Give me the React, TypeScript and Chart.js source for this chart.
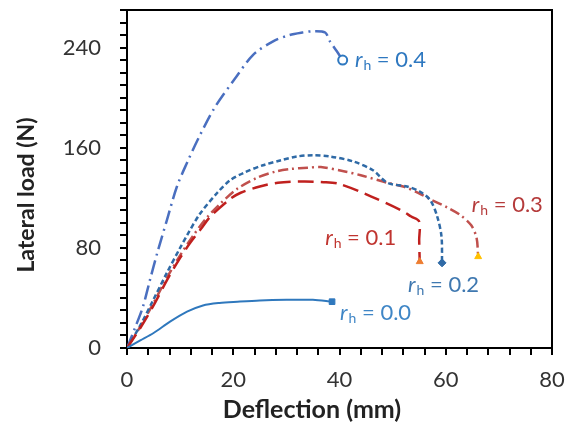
import React, { useEffect, useRef } from 'react';
import { Chart, registerables } from 'chart.js';

Chart.register(...registerables);

// r_h = 0.0 (solid)
const r00X = [0, 2.5, 5, 8.1, 11.3, 14.3, 17.4, 20.8, 25, 30, 35, 38.6];
const r00Y = [0, 6, 12, 21, 29, 34, 36, 37, 38, 38.5, 38.5, 37];
// r_h = 0.1 (long dash)
const r01X = [0, 2.5, 5, 7.5, 10, 11.9, 13.9, 15.7, 19.4, 21.4, 25, 28.4, 33, 37, 40, 46, 51.6, 53.5, 55.0, 55.0, 55.1];
const r01Y = [0, 16, 34, 54, 72, 84, 95, 105, 119, 124, 129, 132, 133, 132.5, 131, 121, 110, 105, 101, 86, 69];
// r_h = 0.2 (short dash)
const r02X = [0, 2.5, 4.9, 7.5, 10, 11.3, 13.7, 17, 19.4, 22, 25.6, 29, 32, 35, 38.2, 42.6, 46.3, 49, 52.7, 55.1, 57.1, 58.4, 59.2, 59.3];
const r02Y = [0, 18, 38, 60, 80, 90, 107, 124, 134, 140, 146, 150, 153, 154, 153, 149, 142, 132, 129, 125, 118, 105, 89, 68];
// r_h = 0.3 (dash-dot, red)
const r03X = [0, 2.5, 5, 7.5, 10, 12.5, 15, 17.5, 20.7, 24.5, 28, 30.8, 34, 36.5, 41, 44, 49, 52, 54.8, 57, 60.4, 62.8, 64.8, 65.8, 66.1];
const r03Y = [0, 17, 36, 56, 74, 90, 104, 115, 127, 136, 141, 143, 144, 144.5, 141, 138, 132, 129, 124, 119, 112, 106, 98, 88, 73];
// r_h = 0.4 (dash-dot, blue)
const r04X = [0, 1.5, 3.0, 4.3, 5.7, 7.5, 9.4, 11.3, 13.5, 16.5, 20.3, 23.7, 27.5, 30.6, 33, 35, 37.3, 38.2, 39.5, 40.6];
const r04Y = [0, 16, 33, 54, 76, 102, 129, 148, 168, 192, 215, 234, 245, 250, 252, 253, 252, 245, 237, 230];

const seriesValues = ['0.0', '0.1', '0.2', '0.3', '0.4'];
const xTickLabels = [0, 20, 40, 60, 80];
const yTickLabels = [0, 80, 160, 240];
const labelAnchorX = [40.1, 37.3, 52.9, 64.9, 42.9];
const labelAnchorY = [28, 88, 50.4, 114.4, 230.4];

const xTitle = 'Deflection (mm)';
const yTitle = 'Lateral load (N)';

const lineColors = ['#2f78bd', '#c0201e', '#2f6aa6', '#c0504d', '#4a6fc0'];
const labelColors = ['#3f86c6', '#c0342f', '#3f78b0', '#b53b3b', '#2e78c0'];
const markerFill = ['#2f78bd', '#ed7d31', '#2f6aa6', '#ffc000', '#ffffff'];
const markerStroke = ['#2f78bd', '#ed7d31', '#2f6aa6', '#ffc000', '#2e78c0'];
const markerStyle = ['rect', 'triangle', 'rectRot', 'triangle', 'circle'];
const dashes = [[], [16, 7], [5, 3], [10, 4, 2, 4], [14, 5, 2, 5]];

const FONT = 'Lato, "Open Sans", sans-serif';

function zip(xs: number[], ys: number[]) {
  return xs.map((x, i) => ({ x, y: ys[i] }));
}

export default function App() {
  const ref = useRef<HTMLCanvasElement | null>(null);

  useEffect(() => {
    const canvas = ref.current;
    if (!canvas) return;
    const allX = [r00X, r01X, r02X, r03X, r04X];
    const allY = [r00Y, r01Y, r02Y, r03Y, r04Y];

    const datasets = allX.map((xs, i) => {
      const n = xs.length;
      return {
        label: 'r_h = ' + seriesValues[i],
        data: zip(xs, allY[i]),
        showLine: true,
        borderColor: lineColors[i],
        borderWidth: i === 0 ? 2 : 2.5,
        borderDash: dashes[i],
        tension: 0.3,
        pointStyle: markerStyle[i],
        pointRadius: (c: any) => (c.dataIndex === n - 1 ? (i === 4 ? 4.5 : 4) : 0),
        pointHoverRadius: 0,
        pointBackgroundColor: markerFill[i],
        pointBorderColor: markerStroke[i],
        pointBorderWidth: i === 4 ? 2 : 1,
      };
    });

    const framePlugin = {
      id: 'frame',
      afterDraw(chart: any) {
        const { ctx, chartArea } = chart;
        ctx.save();
        ctx.strokeStyle = '#000';
        ctx.lineWidth = 2;
        ctx.beginPath();
        ctx.moveTo(chartArea.left, chartArea.top);
        ctx.lineTo(chartArea.right, chartArea.top);
        ctx.lineTo(chartArea.right, chartArea.bottom);
        ctx.stroke();
        ctx.restore();
      },
    };

    const labelPlugin = {
      id: 'seriesLabels',
      afterDatasetsDraw(chart: any) {
        const { ctx } = chart;
        const xs = chart.scales.x;
        const ys = chart.scales.y;
        ctx.save();
        ctx.textBaseline = 'middle';
        ctx.textAlign = 'left';
        seriesValues.forEach((v, i) => {
          let px = xs.getPixelForValue(labelAnchorX[i]);
          const py = ys.getPixelForValue(labelAnchorY[i]);
          ctx.fillStyle = labelColors[i];
          ctx.font = 'italic 22px ' + FONT;
          ctx.fillText('r', px, py);
          px += ctx.measureText('r').width + 1;
          ctx.font = '14px ' + FONT;
          ctx.fillText('h', px, py + 6);
          px += ctx.measureText('h').width;
          ctx.font = '22px ' + FONT;
          ctx.fillText(' = ' + v, px, py);
        });
        ctx.restore();
      },
    };

    const titlePlugin = {
      id: 'axisTitles',
      afterDraw(chart: any) {
        const { ctx } = chart;
        ctx.save();
        ctx.fillStyle = '#222';
        ctx.textAlign = 'center';
        ctx.textBaseline = 'middle';
        ctx.font = 'bold 25px ' + FONT;
        ctx.fillText(xTitle, 312, 410);
        ctx.font = 'bold 23px ' + FONT;
        ctx.translate(27, 195);
        ctx.rotate(-Math.PI / 2);
        ctx.fillText(yTitle, 0, 0);
        ctx.restore();
      },
    };

    const chart = new Chart(canvas, {
      type: 'scatter',
      data: { datasets: datasets as any },
      options: {
        animation: false,
        responsive: false,
        maintainAspectRatio: false,
        layout: { padding: { top: 10, right: 24, left: 0, bottom: 0 } },
        plugins: {
          legend: { display: false },
          tooltip: { enabled: false },
        },
        scales: {
          x: {
            type: 'linear',
            min: 0,
            max: 80,
            afterFit(s: any) {
              s.height = 77;
              s.paddingLeft = 0;
              s.paddingRight = 0;
              s.paddingTop = 0;
              s.paddingBottom = 0;
            },
            ticks: {
              stepSize: 4,
              autoSkip: false,
              maxRotation: 0,
              padding: 12,
              color: '#333',
              font: { family: FONT, size: 22 },
              callback: (v: any) => (xTickLabels.includes(Number(v)) ? String(v) : ''),
            },
            grid: { drawOnChartArea: false, drawTicks: true, tickLength: 7, color: '#000', lineWidth: 2 },
            border: { display: true, color: '#000', width: 2 },
          },
          y: {
            type: 'linear',
            min: 0,
            max: 270,
            afterFit(s: any) {
              s.width = 127;
              s.paddingLeft = 0;
              s.paddingRight = 0;
              s.paddingTop = 0;
              s.paddingBottom = 0;
            },
            ticks: {
              stepSize: 10,
              autoSkip: false,
              padding: 19,
              color: '#333',
              font: { family: FONT, size: 22 },
              callback: (v: any) => (yTickLabels.includes(Number(v)) ? String(v) : ''),
            },
            grid: { drawOnChartArea: false, drawTicks: true, tickLength: 7, color: '#000', lineWidth: 2 },
            border: { display: true, color: '#000', width: 2 },
          },
        },
      },
      plugins: [framePlugin, labelPlugin, titlePlugin],
    });

    return () => chart.destroy();
  }, []);

  return (
    <div style={{ position: 'fixed', left: 0, top: 0, width: 576, height: 425, background: '#fff' }}>
      <canvas ref={ref} width={576} height={425} style={{ width: 576, height: 425, display: 'block' }} />
    </div>
  );
}
